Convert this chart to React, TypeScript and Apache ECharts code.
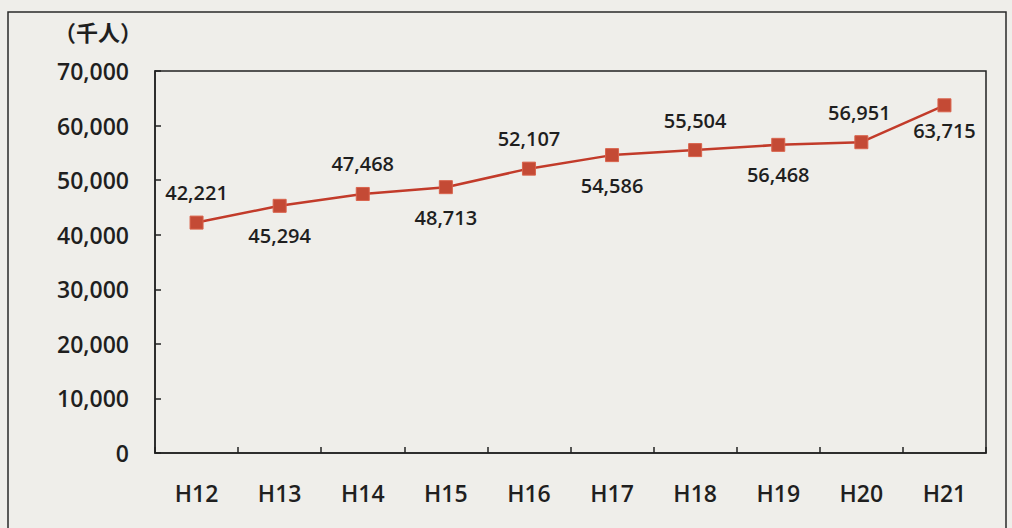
import React, { useEffect, useRef } from "react";
import * as echarts from "echarts";

const categories = ["H12", "H13", "H14", "H15", "H16", "H17", "H18", "H19", "H20", "H21"];
const values = [42221, 45294, 47468, 48713, 52107, 54586, 55504, 56468, 56951, 63715];
const labelPositions = ["top", "bottom", "top", "bottom", "top", "bottom", "top", "bottom", "top", "bottom"];
const unitLabel = "（千人）";

export default function App() {
  const ref = useRef<HTMLDivElement>(null);
  useEffect(() => {
    document.body.style.margin = "0";
    const chart = echarts.init(ref.current!, null, { renderer: "svg" });
    const font = "'Open Sans', 'Noto Sans CJK JP', sans-serif";
    chart.setOption({
      animation: false,
      backgroundColor: "#efeeea",
      textStyle: { fontFamily: font },
      graphic: [
        {
          type: "rect",
          shape: { x: 8, y: 12, width: 998, height: 530 },
          style: { fill: "none", stroke: "#2a2a2a", lineWidth: 1.5 },
          silent: true,
        },
        {
          type: "text",
          left: 54,
          top: 21,
          style: { text: unitLabel, font: `600 22px ${font}`, fill: "#1f1f1f" },
        },
      ],
      grid: {
        left: 155,
        top: 71,
        right: 26,
        bottom: 75,
        show: true,
        borderColor: "#222",
        borderWidth: 1.5,
        backgroundColor: "transparent",
      },
      xAxis: {
        type: "category",
        data: categories,
        boundaryGap: true,
        axisLine: { lineStyle: { color: "#222", width: 1.5 } },
        axisTick: { show: true, inside: true, length: 6, lineStyle: { color: "#222", width: 1.5 } },
        axisLabel: { color: "#1f1f1f", fontSize: 23, fontWeight: 600, margin: 28, fontFamily: font },
      },
      yAxis: {
        type: "value",
        min: 0,
        max: 70000,
        interval: 10000,
        splitLine: { show: false },
        axisLine: { show: true, lineStyle: { color: "#222", width: 1.5 } },
        axisTick: { show: true, inside: true, length: 6, lineStyle: { color: "#222", width: 1.5 } },
        axisLabel: {
          color: "#1f1f1f",
          fontSize: 23,
          fontWeight: 600,
          margin: 26,
          fontFamily: font,
          formatter: (v: number) => v.toLocaleString("en-US"),
        },
      },
      series: [
        {
          type: "line",
          data: values.map((v, i) => ({
            value: v,
            label: {
              position: labelPositions[i],
              distance: i === 9 ? 8 : 13,
              offset: i === 8 ? [-2, 0] : [0, 0],
            },
          })),
          symbol: "rect",
          symbolSize: 13,
          lineStyle: { color: "#c23b2a", width: 2.5 },
          itemStyle: { color: "#c44a35", borderColor: "#d9634c", borderWidth: 1 },
          label: {
            show: true,
            color: "#1f1f1f",
            fontSize: 20,
            fontWeight: 600,
            fontFamily: font,
            formatter: (p: any) => (p.value as number).toLocaleString("en-US"),
          },
        },
      ],
    });
    return () => chart.dispose();
  }, []);
  return <div ref={ref} style={{ width: 1012, height: 528 }} />;
}
